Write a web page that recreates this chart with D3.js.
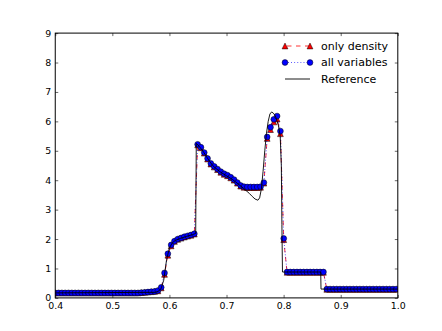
<!DOCTYPE html>
<html>
<head>
<meta charset="utf-8">
<script src="https://cdn.jsdelivr.net/npm/d3@7"></script>
<style>
  body { margin: 0; background: #fff; }
  text { font-family: "DejaVu Sans", sans-serif; }
</style>
</head>
<body>
<div id="chart"></div>
<script>
// cell grid of the two runs
var gridStart = 0.4;
var gridStep = 0.0058;

// density, "all variables" run
var allVariables = [
  0.17,0.17,0.17,0.17,0.17,0.17,0.17,0.17,0.17,0.17,
  0.17,0.17,0.17,0.17,0.17,0.17,0.17,0.17,0.17,0.17,
  0.17,0.17,0.17,0.17,0.17,0.17,0.18,0.19,0.20,0.21,
  0.22,0.25,0.36,0.85,1.50,1.80,1.93,2.00,2.04,2.08,
  2.11,2.14,2.18,5.22,5.12,4.94,4.74,4.57,4.47,4.38,
  4.29,4.22,4.17,4.10,4.02,3.92,3.82,3.78,3.77,3.77,
  3.77,3.77,3.78,3.92,5.47,5.80,6.07,6.18,5.67,2.02,
  0.88,0.88,0.88,0.88,0.88,0.88,0.88,0.88,0.88,0.88,
  0.88,0.88,0.30,0.30,0.30,0.30,0.30,0.30,0.30,0.30,
  0.30,0.30,0.30,0.30,0.30,0.30,0.30,0.30,0.30,0.30,
  0.30,0.30,0.30,0.30
];

// density, "only density" run
var onlyDensity = [
  0.17,0.17,0.17,0.17,0.17,0.17,0.17,0.17,0.17,0.17,
  0.17,0.17,0.17,0.17,0.17,0.17,0.17,0.17,0.17,0.17,
  0.17,0.17,0.17,0.17,0.17,0.17,0.18,0.19,0.20,0.21,
  0.22,0.24,0.34,0.80,1.45,1.77,1.92,1.99,2.03,2.07,
  2.10,2.13,2.17,5.20,5.10,4.92,4.72,4.55,4.45,4.36,
  4.27,4.20,4.15,4.08,4.00,3.90,3.80,3.76,3.75,3.75,
  3.75,3.75,3.76,3.90,5.42,5.72,5.98,6.08,5.58,1.98,
  0.87,0.87,0.87,0.87,0.87,0.87,0.87,0.87,0.87,0.87,
  0.87,0.87,0.29,0.29,0.29,0.29,0.29,0.29,0.29,0.29,
  0.29,0.29,0.29,0.29,0.29,0.29,0.29,0.29,0.29,0.29,
  0.29,0.29,0.29,0.29
];

// reference solution
var refX = [0.4, 0.575, 0.58, 0.585, 0.59, 0.595, 0.6, 0.605, 0.61, 0.62, 0.63, 0.64, 0.646,
  0.647, 0.65, 0.655, 0.66, 0.665, 0.67, 0.675, 0.68, 0.69, 0.7, 0.71, 0.72, 0.73, 0.74,
  0.745, 0.75, 0.755, 0.758, 0.761, 0.764, 0.767, 0.77, 0.773, 0.776, 0.779, 0.782, 0.785,
  0.788, 0.791, 0.794, 0.796, 0.797, 0.798, 0.865, 0.8655, 1.0];
var refY = [0.17, 0.19, 0.22, 0.3, 0.6, 1.3, 1.7, 1.87, 1.95, 2.03, 2.09, 2.15, 2.19,
  5.25, 5.2, 5.08, 4.95, 4.8, 4.65, 4.52, 4.42, 4.27, 4.15, 4.03, 3.88, 3.72, 3.55,
  3.45, 3.36, 3.32, 3.4, 3.7, 4.3, 5.0, 5.6, 6.0, 6.25, 6.32, 6.28, 6.2,
  6.05, 5.85, 5.5, 4.5, 2.5, 0.88, 0.88, 0.3, 0.3];

var xTicks = [0.4, 0.5, 0.6, 0.7, 0.8, 0.9, 1.0];
var yTicks = [0, 1, 2, 3, 4, 5, 6, 7, 8, 9];

var svgWidth = 442;
var svgHeight = 331;
var margin = { top: 33.1, right: 44.2, bottom: 33.1, left: 55.25 };
var width = svgWidth - margin.left - margin.right;
var height = svgHeight - margin.top - margin.bottom;

var svg = d3.select("#chart").append("svg")
  .attr("width", svgWidth)
  .attr("height", svgHeight);

svg.append("rect").attr("width", svgWidth).attr("height", svgHeight).attr("fill", "#fff");

var chartGroup = svg.append("g")
  .attr("transform", `translate(${margin.left}, ${margin.top})`);

var x = d3.scaleLinear().domain([0.4, 1.0]).range([0, width]);
var y = d3.scaleLinear().domain([0, 9]).range([height, 0]);

chartGroup.append("clipPath").attr("id", "clip")
  .append("rect").attr("width", width).attr("height", height);

var gridX = allVariables.map((d, i) => gridStart + i * gridStep);
var allData = allVariables.map((d, i) => [gridX[i], d]);
var denData = onlyDensity.map((d, i) => [gridX[i], d]);
var refData = refX.map((d, i) => [d, refY[i]]);

var line = d3.line().x(d => x(d[0])).y(d => y(d[1]));
var plot = chartGroup.append("g").attr("clip-path", "url(#clip)");

var ms = 2.9;
function triangle(s) {
  return `M0,${-s}L${s},${s}L${-s},${s}Z`;
}

// only density: red dashed + triangles
plot.append("path").datum(denData)
  .attr("d", line).attr("fill", "none")
  .attr("stroke", "red").attr("stroke-width", 0.8)
  .attr("stroke-dasharray", "4.5,4.5");
plot.selectAll(".tri").data(denData).enter().append("path")
  .attr("class", "tri")
  .attr("transform", d => `translate(${x(d[0])},${y(d[1])})`)
  .attr("d", triangle(ms))
  .attr("fill", "red").attr("stroke", "#000").attr("stroke-width", 0.5);

// all variables: blue dotted + circles
plot.append("path").datum(allData)
  .attr("d", line).attr("fill", "none")
  .attr("stroke", "blue").attr("stroke-width", 0.8)
  .attr("stroke-dasharray", "0.8,2.3");
plot.selectAll(".dot").data(allData).enter().append("circle")
  .attr("class", "dot")
  .attr("cx", d => x(d[0])).attr("cy", d => y(d[1]))
  .attr("r", ms)
  .attr("fill", "blue").attr("stroke", "#000").attr("stroke-width", 0.5);

// reference
plot.append("path").datum(refData)
  .attr("d", line).attr("fill", "none")
  .attr("stroke", "#000").attr("stroke-width", 0.9);

// axes, ticks inside on all four sides
function styleAxis(g) {
  g.select(".domain").remove();
  g.selectAll(".tick line").attr("stroke", "#000").attr("stroke-width", 0.6);
  g.selectAll("text").attr("fill", "#000").attr("font-size", "9.4px")
    .attr("font-family", "DejaVu Sans, sans-serif");
}

chartGroup.append("g")
  .attr("transform", `translate(0, ${height})`)
  .call(d3.axisBottom(x).tickValues(xTicks).tickFormat(d3.format(".1f"))
    .tickSize(-3).tickPadding(4))
  .call(styleAxis);
chartGroup.append("g")
  .call(d3.axisTop(x).tickValues(xTicks).tickSize(-3).tickFormat(""))
  .call(styleAxis);
chartGroup.append("g")
  .call(d3.axisLeft(y).tickValues(yTicks).tickFormat(d3.format("d"))
    .tickSize(-3).tickPadding(4))
  .call(styleAxis);
chartGroup.append("g")
  .attr("transform", `translate(${width}, 0)`)
  .call(d3.axisRight(y).tickValues(yTicks).tickSize(-3).tickFormat(""))
  .call(styleAxis);

chartGroup.append("rect")
  .attr("width", width).attr("height", height)
  .attr("fill", "none").attr("stroke", "#000").attr("stroke-width", 1);

// legend
var legend = svg.append("g");
var legendItems = ["only density", "all variables", "Reference"];
var legendY = [46, 62.5, 79];
var hx0 = 285, hx1 = 310;

legendItems.forEach(function(name, i) {
  var ly = legendY[i];
  var lg = legend.append("g");
  if (i === 0) {
    lg.append("line").attr("x1", hx0).attr("x2", hx1).attr("y1", ly).attr("y2", ly)
      .attr("stroke", "red").attr("stroke-width", 0.8).attr("stroke-dasharray", "4.5,4.5")
      .attr("stroke-dashoffset", -2);
    [hx0, hx1].forEach(px => lg.append("path")
      .attr("transform", `translate(${px},${ly})`).attr("d", triangle(ms))
      .attr("fill", "red").attr("stroke", "#000").attr("stroke-width", 0.5));
  } else if (i === 1) {
    lg.append("line").attr("x1", hx0).attr("x2", hx1).attr("y1", ly).attr("y2", ly)
      .attr("stroke", "blue").attr("stroke-width", 0.8).attr("stroke-dasharray", "0.8,2.3");
    [hx0, hx1].forEach(px => lg.append("circle")
      .attr("cx", px).attr("cy", ly).attr("r", ms)
      .attr("fill", "blue").attr("stroke", "#000").attr("stroke-width", 0.5));
  } else {
    lg.append("line").attr("x1", hx0).attr("x2", hx1).attr("y1", ly).attr("y2", ly)
      .attr("stroke", "#000").attr("stroke-width", 0.9);
  }
  lg.append("text").attr("x", 321).attr("y", ly).attr("dy", "0.35em")
    .attr("font-size", "11px").attr("fill", "#000").text(name);
});
</script>
</body>
</html>
